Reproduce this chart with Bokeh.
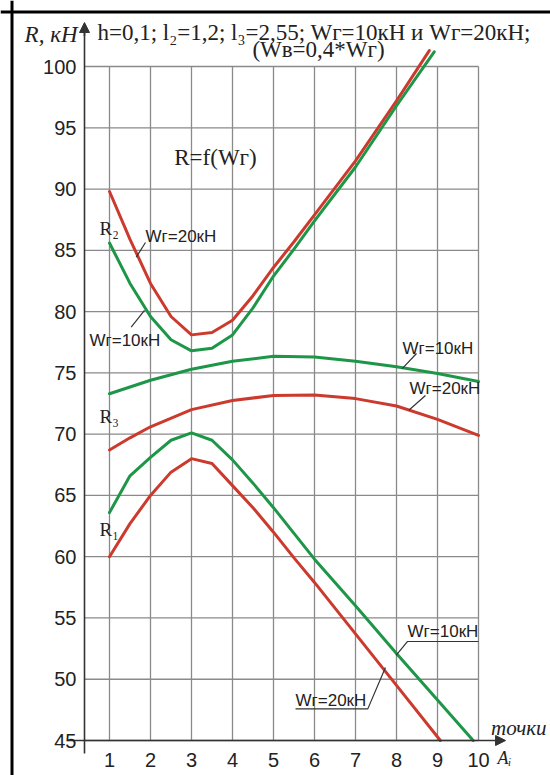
from bokeh.plotting import figure
from bokeh.models import Range1d, LinearAxis, FixedTicker, Arrow, NormalHead, Span, Label
from bokeh.embed import file_html
from bokeh.resources import INLINE

# ---------------- data ----------------
x_ticks = [1, 2, 3, 4, 5, 6, 7, 8, 9, 10]
y_ticks = [45, 50, 55, 60, 65, 70, 75, 80, 85, 90, 95, 100]

# R2 curves
r2_x_20 = [1, 1.5, 2, 2.5, 3, 3.5, 4, 4.5, 5, 5.5, 6, 7, 8, 8.8]
r2_20 = [89.8, 85.9, 82.3, 79.6, 78.1, 78.3, 79.3, 81.3, 83.6, 85.7, 87.9, 92.3, 97.2, 101.3]
r2_x_10 = [1, 1.5, 2, 2.5, 3, 3.5, 4, 4.5, 5, 5.5, 6, 7, 8, 8.92]
r2_10 = [85.6, 82.3, 79.6, 77.7, 76.8, 77.0, 78.1, 80.3, 82.9, 85.1, 87.4, 91.8, 96.8, 101.2]

# R3 curves
r3_x = [1, 1.5, 2, 3, 4, 5, 6, 7, 8, 9, 10]
r3_10 = [73.3, 73.85, 74.4, 75.3, 75.95, 76.35, 76.3, 75.95, 75.5, 74.95, 74.3]
r3_20 = [68.7, 69.7, 70.6, 72.0, 72.75, 73.15, 73.2, 72.9, 72.3, 71.2, 69.9]

# R1 curves
r1_x_20 = [1, 1.5, 2, 2.5, 3, 3.5, 4, 4.5, 5, 5.5, 6, 7, 8, 9.07]
r1_20 = [60.0, 62.7, 65.0, 66.9, 68.0, 67.6, 65.8, 64.0, 62.0, 59.9, 57.9, 53.7, 49.5, 45.0]
r1_x_10 = [1, 1.5, 2, 2.5, 3, 3.5, 4, 4.5, 5, 5.5, 6, 7, 8, 9, 9.87]
r1_10 = [63.6, 66.6, 68.1, 69.5, 70.1, 69.5, 67.9, 66.0, 64.0, 61.9, 59.8, 56.0, 52.1, 48.3, 45.0]

# ---------------- styles ----------------
RED = "#cc3a2e"
GREEN = "#1e9648"
GRID = "#8a8a8a"
AX = "#333333"
TXT = "#222222"
SERIF = "Liberation Serif"
SANS = "Liberation Sans"

W, H = 550, 775
p = figure(width=W, height=H, output_backend="svg", toolbar_location=None,
           x_range=Range1d(-1.6585, 11.756), y_range=Range1d(42.144, 105.387),
           x_axis_location=None, y_axis_location=None, min_border=0)
p.outline_line_color = None
p.background_fill_color = "white"
p.border_fill_color = "white"
for g in p.grid:
    g.visible = False

Y_AXIS_X = 0.39

# grid
p.segment(x0=x_ticks, y0=[y_ticks[0]] * len(x_ticks), x1=x_ticks, y1=[y_ticks[-1]] * len(x_ticks),
          line_color=GRID, line_width=1.3)
p.segment(x0=[Y_AXIS_X] * len(y_ticks), y0=y_ticks, x1=[x_ticks[-1]] * len(y_ticks), y1=y_ticks,
          line_color=GRID, line_width=1.3)

# axes
xaxis = LinearAxis(fixed_location=y_ticks[0], ticker=FixedTicker(ticks=x_ticks), bounds=(-0.02, 10.6))
yaxis = LinearAxis(fixed_location=Y_AXIS_X, ticker=FixedTicker(ticks=y_ticks), bounds=(43.94, 103.3))
for ax in (xaxis, yaxis):
    ax.axis_line_color = AX
    ax.axis_line_width = 1.6
    ax.major_tick_line_color = None
    ax.minor_tick_line_color = None
    ax.major_label_text_font = SANS
    ax.major_label_text_font_size = "20px"
    ax.major_label_text_color = TXT
xaxis.major_label_standoff = 6
yaxis.major_label_standoff = 2
p.add_layout(xaxis, "below")
p.add_layout(yaxis, "left")

p.add_layout(Arrow(end=NormalHead(size=10, fill_color=AX, line_color=AX), x_start=10.4, y_start=45,
                   x_end=10.66, y_end=45, line_color=AX, line_width=1.6))
p.add_layout(Arrow(end=NormalHead(size=10, fill_color=AX, line_color=AX), x_start=Y_AXIS_X, y_start=102.5,
                   x_end=Y_AXIS_X, y_end=103.59, line_color=AX, line_width=1.6))

# frame border (left & top)
p.add_layout(Span(location=-1.378, dimension="height", line_color="black", line_width=3))
p.add_layout(Span(location=104.45, dimension="width", line_color="black", line_width=3))

# curves
for xs, ys, c in [(r2_x_20, r2_20, RED), (r2_x_10, r2_10, GREEN),
                  (r3_x, r3_10, GREEN), (r3_x, r3_20, RED),
                  (r1_x_20, r1_20, RED), (r1_x_10, r1_10, GREEN)]:
    p.line(xs, ys, line_color=c, line_width=3, line_join="round", line_cap="round")

# leader lines
leaders = [
    ([1.878, 1.651], [85.64, 84.44]),
    ([1.529, 1.854], [78.73, 80.09]),
    ([8.488, 8.139], [76.58, 75.35]),
    ([8.707, 8.300], [73.15, 71.95]),
    ([10.0, 8.27, 7.99], [53.08, 53.08, 51.95]),
    ([5.537, 7.30, 7.73], [47.58, 47.58, 50.95]),
]
for xs, ys in leaders:
    p.line(xs, ys, line_color=AX, line_width=1.2)

def lab(x, y, text, font=SANS, size="17px", align="left", baseline="middle", style="normal"):
    p.add_layout(Label(x=x, y=y, text=text, text_font=font, text_font_size=size, text_align=align,
                       text_baseline=baseline, text_font_style=style, text_color=TXT))

# titles
lab(0.22, 102.65, "R, кН", SERIF, "23px", "right", "middle", "italic")
lab(0.707, 102.8, "h=0,1; l₂=1,2; l₃=2,55; Wг=10кН и Wг=20кН;", SERIF, "23px", "left", "middle")
lab(6.098, 101.4, "(Wв=0,4*Wг)", SERIF, "23px", "center", "middle")
lab(3.585, 92.57, "R=f(Wг)", SERIF, "23px", "center", "middle")

# curve names
lab(0.756, 86.78, "R₂", SERIF, "19px")
lab(0.756, 71.44, "R₃", SERIF, "19px")
lab(0.756, 62.22, "R₁", SERIF, "19px")

# series labels
lab(1.878, 86.13, "Wг=20кН")
lab(0.512, 77.64, "Wг=10кН")
lab(8.146, 76.99, "Wг=10кН")
lab(8.317, 73.72, "Wг=20кН")
lab(8.27, 53.9, "Wг=10кН")
lab(5.537, 48.3, "Wг=20кН")

# axis names
lab(11.66, 46.06, "точки", SERIF, "21px", "right", "middle", "italic")
lab(10.463, 43.61, "Aᵢ", SERIF, "18px", "left", "middle", "italic")

open("out.html", "w").write(file_html(p, INLINE))
